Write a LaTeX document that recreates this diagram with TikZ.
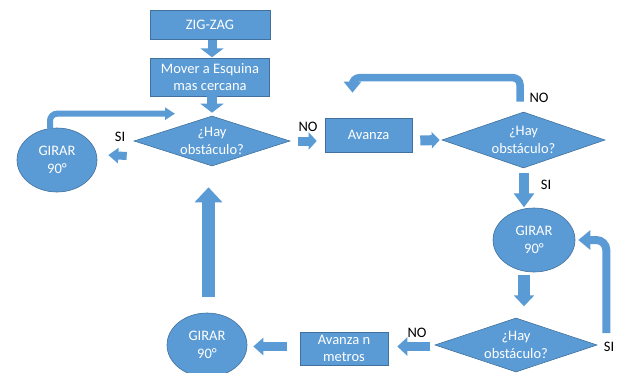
\documentclass[tikz,border=0pt]{standalone}
\usepackage{fontspec}
\setmainfont{Carlito}
\usetikzlibrary{shapes.geometric,arrows.meta,calc}
\definecolor{fillb}{HTML}{5B9BD5}
\definecolor{lineb}{HTML}{41719C}
\begin{document}
\begin{tikzpicture}[x=1pt,y=-1pt,
  txt/.style={font=\fontsize{14.5}{17.5}\selectfont, align=center},
  base/.style={txt, fill=fillb, draw=lineb, line width=0.6pt, text=white, inner sep=0pt},
  box/.style={base, rectangle},
  dia/.style={base, diamond},
  ell/.style={base, ellipse, minimum width=80pt, minimum height=64pt},
  lab/.style={txt, text=black, inner sep=0pt},
  sa/.style n args={3}{draw=fillb, line width=#1, -{Triangle[length=#2,width=#3]}},
  ba/.style n args={3}{draw=fillb, line width=#1, rounded corners=7pt, -{Triangle[length=#2,width=#3]}},
  q/.style={label={[txt,text=white]center:¿Hay\\obstáculo?}}
]
\useasboundingbox (0,0) rectangle (620,372);
\clip (0,0) rectangle (620,372);

% nodes
\node[box, minimum width=120pt, minimum height=29pt] (zig) at (210,24.5) {ZIG-ZAG};
\node[box, minimum width=119pt, minimum height=38pt] (mover) at (210,77) {Mover a Esquina\\mas cercana};
\node[dia, minimum width=156pt, minimum height=50pt, q] (d1) at (212,141) {};
\node[ell] (g1) at (57,160) {GIRAR\\90°};
\node[box, minimum width=87pt, minimum height=34pt] (av) at (368.5,135) {Avanza};
\node[dia, minimum width=163pt, minimum height=56pt, q] (d2) at (523.5,140) {};
\node[ell, minimum width=82pt] (g2) at (534,240) {GIRAR\\90°};
\node[dia, minimum width=162pt, minimum height=54pt, q] (d3) at (516,345) {};
\node[box, minimum width=88pt, minimum height=33pt] (avn) at (344,348.5) {Avanza n\\metros};
\node[ell] (g3) at (207,345) {GIRAR\\90°};

% labels
\node[lab] (si1) at (120,137) {SI};
\node[lab] (no1) at (308,127) {NO};
\node[lab] (no2) at (539,98) {NO};
\node[lab] (si2) at (546,185) {SI};
\node[lab] (si3) at (609,347) {SI};
\node[lab] (no3) at (417,333) {NO};

% straight block arrows
\draw[sa={9pt}{9pt}{23pt}] ($(zig.south)+(2,1)$) -- ($(zig.south)+(2,18)$);
\draw[sa={10pt}{9pt}{23pt}] ($(mover.south)+(2,0)$) -- ($(d1.north)+(0,-3)$);
\draw[sa={8pt}{10pt}{15pt}] ($(d1.west)+(-7,15)$) -- ($(g1.east)+(11,-5)$);
\draw[sa={9pt}{8pt}{17pt}] ($(d1.east)+(8,0)$) -- ($(av.west)+(-8,6)$);
\draw[sa={10pt}{8pt}{16pt}] ($(av.east)+(8,5.5)$) -- ($(d2.west)+(-2,0)$);
\draw[sa={10pt}{14pt}{20pt}] ($(d2.south)+(0.5,5)$) -- ($(d2.south)+(0.5,39)$);
\draw[sa={12pt}{11pt}{20pt}] ($(g2.south)+(-10,3)$) -- ($(g2.south)+(-10,34)$);
\draw[sa={9pt}{10pt}{18pt}] ($(d3.west)+(-5,1.5)$) -- ($(avn.east)+(9,-2)$);
\draw[sa={9pt}{10pt}{17pt}] ($(avn.west)+(-13,-2)$) -- ($(g3.east)+(6,1.5)$);
\draw[sa={13pt}{15pt}{27pt}] ($(g3.north)+(1.5,-16)$) -- ($(d1.south)+(-3.5,21)$);

% bent arrows
\draw[ba={6pt}{10pt}{12pt}] ($(g1.north)+(-7,1)$) |- ($(d1.north)+(-37,-2)$);
\draw[ba={7.5pt}{11pt}{17pt}] ($(d2.north)+(-3.5,-10)$) -- ++(0,-24) -| ($(av.north)+(-16,-25)$);
\draw[ba={8pt}{12pt}{19pt}, rounded corners=10pt] ($(d3.east)+(9,-12)$) |- ($(g2.east)+(3,0)$);
\end{tikzpicture}
\end{document}
